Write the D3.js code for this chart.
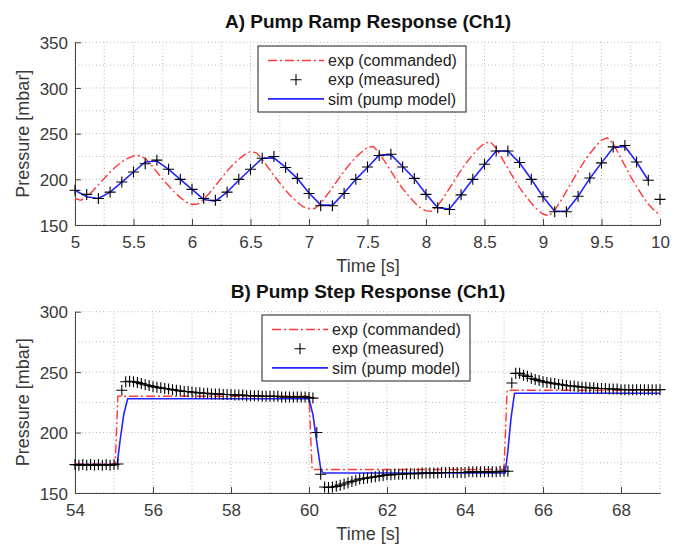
<!DOCTYPE html>
<html>
<head>
<meta charset="utf-8">
<script src="https://cdn.jsdelivr.net/npm/d3@7"></script>
<style>
  body { margin: 0; background: #fff; }
  text { font-family: "Liberation Sans", Arial, Helvetica, sans-serif; }
</style>
</head>
<body>
<div id="container"></div>
<script>
// ---- panel A: ramp response ----
const rampCmdStart = 5, rampCmdStep = 0.05;
const rampCommanded = [
  179, 177, 181, 187, 194, 201, 208, 214, 219, 223, 225.5, 226, 223, 216, 208, 200, 193, 186, 180, 175,
  172.5, 173, 178, 185, 193, 201, 209, 216, 222, 227, 230.5, 229, 222, 213, 204, 196, 188, 181, 175, 170,
  168, 168, 174, 182, 191, 200, 209, 217, 224, 230, 235, 236, 229, 219, 209, 199, 190, 182, 175, 169,
  165.5, 165, 171, 180, 190, 200, 210, 219, 227, 234, 239.5, 241, 234, 223, 212, 201, 191, 182, 174, 167,
  162, 160, 166, 176, 187, 198, 209, 219, 228, 236, 243, 245.5, 239, 227, 215, 203, 192, 182, 173, 166,
  161
];
const rampMeasStart = 5, rampMeasStep = 0.1;
const rampMeasured = [
  188, 183.5, 179, 186, 197, 208, 217, 221, 211, 200,
  189, 179, 177, 186, 200, 211, 223, 225, 213, 201,
  184.5, 171, 171, 184.5, 200, 213.5, 226, 227.5, 213.5, 201,
  183.5, 169, 167, 183, 200, 216.5, 231, 231, 218.5, 200,
  181, 164.5, 164.5, 181.5, 201.5, 218, 235.5, 237, 219, 199,
  178
];
const rampSimStart = 5, rampSimStep = 0.1;
const rampSim = [
  188, 181, 179, 186, 197, 208, 219, 220, 211, 200,
  189, 178, 176, 186, 199, 211, 223, 223.5, 213, 201,
  185, 172, 171.5, 185, 200, 213, 226.5, 227, 214, 201,
  184, 169, 167.5, 183, 200, 216, 231, 231, 218, 200,
  181, 165, 165, 181.5, 201, 218, 234.5, 236, 219, 199
];
const rampXTicks = [5, 5.5, 6, 6.5, 7, 7.5, 8, 8.5, 9, 9.5, 10];
const rampYTicks = [150, 200, 250, 300, 350];

// ---- panel B: step response ----
const stepCmdTime = [54, 55.03, 55.1, 60.0, 60.08, 65.0, 65.08, 69];
const stepCommanded = [174, 174, 230, 230, 169.5, 169.5, 235, 235];
const stepSimTime = [54, 55.08, 55.15, 55.25, 55.35, 60.0, 60.1, 60.2, 60.3, 60.36, 65.03, 65.1, 65.18, 65.27, 69];
const stepSim = [173.5, 173.5, 192, 215, 228, 228, 215, 192, 170, 166.5, 166.5, 185, 212, 232.5, 232.5];
const stepMeasStart = 54, stepMeasStep = 0.1;
const stepMeasured = [
  173.5, 173, 173.5, 173, 173.5, 173, 173.5, 173, 173.5, 173, 173.5, 174,
  235, 242, 242.5, 242, 241.5, 240.5, 239.5, 239,
  238, 237.5, 237, 236.5, 236, 235.5, 235, 234.5, 234, 234,
  233.5, 233, 233, 232.5, 232.5, 232, 232, 232, 231.5, 231.5,
  231.5, 231, 231, 231, 230.5, 230.5, 230.5, 230.5, 230, 230,
  230, 230, 230, 229.5, 229.5, 229.5, 229.5, 229.5, 229.5, 229.5,
  229, 228.5, 200, 165.5, 155, 154.5, 155, 155.5, 156.5, 157.5,
  158.5, 159.5, 160.5, 161.5, 162, 162.5, 163, 163.5, 164, 164.5,
  165, 165, 165.5, 165.5, 165.5, 166, 166, 166, 166, 166.5,
  166.5, 166.5, 166.5, 166.5, 167, 167, 167, 167, 167, 167,
  167, 167.5, 167.5, 167.5, 167.5, 167.5, 167.5, 167.5, 167.5, 168,
  168, 168, 241, 249, 249, 247.5, 246.5, 245, 244, 243,
  242, 241.5, 241, 240.5, 240, 239.5, 239, 238.5, 238.5, 238,
  237.5, 237.5, 237, 237, 236.5, 236.5, 236.5, 236, 236, 236,
  235.5, 235.5, 235.5, 235.5, 235.5, 235.5, 235.5, 235.5, 235.5, 235.5,
  235.5
];
const stepXTicks = [54, 56, 58, 60, 62, 64, 66, 68];
const stepYTicks = [150, 200, 250, 300];

const legendLabels = ["exp (commanded)", "exp (measured)", "sim (pump model)"];

const toPoints = (times, vals) => vals.map((v, i) => ({ t: times[i], v: v }));
const toRegular = (start, step, vals) => vals.map((v, i) => ({ t: +(start + i * step).toFixed(3), v: v }));

const W = 673, H = 548;
const svg = d3.select("#container").append("svg")
  .attr("width", W).attr("height", H);

const RED = "#ff3838", BLUE = "#2424ff";
const MK = 5.5; // half size of the "+" marker

function drawPanel(opt) {
  const g = svg.append("g");
  const x = d3.scaleLinear().domain(opt.xDomain).range([75, 660]);
  const y = d3.scaleLinear().domain(opt.yDomain).range([opt.bottom, opt.top]);

  // dotted grid (major + minor)
  const grid = g.append("g").attr("stroke", "#b8b8b8").attr("stroke-dasharray", "1,2.5").attr("stroke-width", 1);
  grid.selectAll("line.v").data(opt.xGrid).enter().append("line")
    .attr("x1", d => x(d)).attr("x2", d => x(d))
    .attr("y1", y.range()[0]).attr("y2", y.range()[1]);
  grid.selectAll("line.h").data(opt.yGrid).enter().append("line")
    .attr("y1", d => y(d)).attr("y2", d => y(d))
    .attr("x1", x.range()[0]).attr("x2", x.range()[1]);

  // axes
  const xAxis = g.append("g")
    .attr("transform", `translate(0, ${opt.bottom})`)
    .call(d3.axisBottom(x).tickValues(opt.xTicks).tickFormat(d3.format("")).tickSizeInner(-6).tickSizeOuter(0).tickPadding(11));
  const yAxis = g.append("g")
    .attr("transform", "translate(75, 0)")
    .call(d3.axisLeft(y).tickValues(opt.yTicks).tickSizeInner(-6).tickSizeOuter(0).tickPadding(7));
  [xAxis, yAxis].forEach(a => {
    a.select(".domain").attr("stroke", "#444");
    a.selectAll(".tick line").attr("stroke", "#444");
    a.selectAll(".tick text").attr("fill", "#3a3a3a").style("font-size", "17px")
      .style("font-family", "'Liberation Sans', Arial, sans-serif");
  });
  yAxis.selectAll(".tick text").attr("dy", "0.36em");

  // labels
  g.append("text").attr("x", 368).attr("y", opt.top - 14).attr("text-anchor", "middle")
    .style("font-size", "19px").style("font-weight", "bold").attr("fill", "#111").text(opt.title);
  g.append("text").attr("x", 368).attr("y", opt.bottom + 47).attr("text-anchor", "middle")
    .style("font-size", "18px").attr("fill", "#3a3a3a").text("Time [s]");
  g.append("text")
    .attr("transform", `translate(29, ${(opt.top + opt.bottom) / 2}) rotate(-90)`)
    .attr("text-anchor", "middle").style("font-size", "18px").attr("fill", "#3a3a3a")
    .text("Pressure [mbar]");

  const line = d3.line().x(d => x(d.t)).y(d => y(d.v));

  g.append("path").datum(opt.cmd).attr("d", line)
    .attr("fill", "none").attr("stroke", RED).attr("stroke-width", 1.4)
    .attr("stroke-dasharray", "9,3,2,3");
  g.append("path").datum(opt.sim).attr("d", line)
    .attr("fill", "none").attr("stroke", BLUE).attr("stroke-width", 1.6);

  g.append("g").selectAll("path.m").data(opt.meas).enter().append("path")
    .attr("d", d => `M${x(d.t) - MK},${y(d.v)}H${x(d.t) + MK}M${x(d.t)},${y(d.v) - MK}V${y(d.v) + MK}`)
    .attr("stroke", "#000").attr("stroke-width", 1.1).attr("fill", "none");

  // legend
  const lg = g.append("g").attr("transform", `translate(${opt.legend[0]}, ${opt.legend[1]})`);
  lg.append("rect").attr("width", 208).attr("height", 66)
    .attr("fill", "#fff").attr("stroke", "#444").attr("stroke-width", 1.2);
  legendLabels.forEach((lab, i) => {
    const cy = 14.5 + i * 19.2;
    if (i === 0) {
      lg.append("line").attr("x1", 10).attr("x2", 66).attr("y1", cy).attr("y2", cy)
        .attr("stroke", RED).attr("stroke-width", 1.4).attr("stroke-dasharray", "9,3,2,3");
    } else if (i === 1) {
      lg.append("path").attr("d", `M${38 - MK},${cy}H${38 + MK}M38,${cy - MK}V${cy + MK}`)
        .attr("stroke", "#000").attr("stroke-width", 1.1);
    } else {
      lg.append("line").attr("x1", 10).attr("x2", 66).attr("y1", cy).attr("y2", cy)
        .attr("stroke", BLUE).attr("stroke-width", 1.6);
    }
    lg.append("text").attr("x", 70).attr("y", cy).attr("dy", "0.35em")
      .style("font-size", "16px").attr("fill", "#222").text(lab);
  });
}

drawPanel({
  title: "A) Pump Ramp Response (Ch1)",
  xDomain: [5, 10], yDomain: [150, 350], top: 42.3, bottom: 225,
  xTicks: rampXTicks, yTicks: rampYTicks,
  xGrid: d3.range(5, 10.01, 0.25), yGrid: d3.range(150, 351, 25),
  cmd: toRegular(rampCmdStart, rampCmdStep, rampCommanded),
  meas: toRegular(rampMeasStart, rampMeasStep, rampMeasured),
  sim: toRegular(rampSimStart, rampSimStep, rampSim),
  legend: [258, 46]
});

drawPanel({
  title: "B) Pump Step Response (Ch1)",
  xDomain: [54, 69], yDomain: [150, 300], top: 311.7, bottom: 493,
  xTicks: stepXTicks, yTicks: stepYTicks,
  xGrid: d3.range(54, 69.01, 1), yGrid: d3.range(150, 301, 25),
  cmd: toPoints(stepCmdTime, stepCommanded),
  meas: toRegular(stepMeasStart, stepMeasStep, stepMeasured),
  sim: toPoints(stepSimTime, stepSim),
  legend: [262, 315]
});
</script>
</body>
</html>
